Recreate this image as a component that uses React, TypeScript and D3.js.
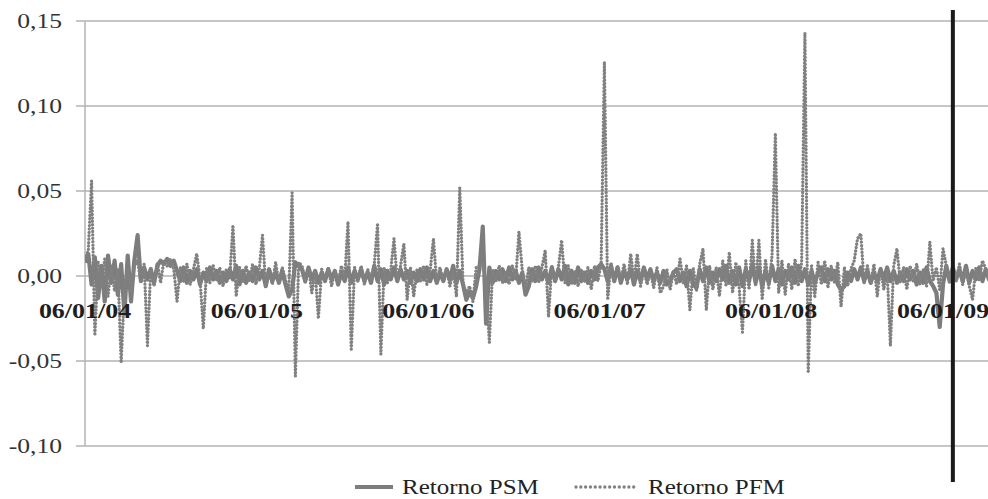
import React from 'react';
import * as d3 from 'd3';

// weekly returns, in thousandths, starting 06/01/04
const psmValues = [
  8, 13, -5, 11, -13, 6, -15, 12, -4, 9, -11, 7, -22, 12, -15, 9, 24, -3, 5, -2,
  4, -4, 6, 9, 7, 10, 6, 9, 3, -3, 5, -4, 3, -2, 4, -5, 2, -3, 5, -2,
  3, -4, 2, -3, 4, -2, 6, -5, 3, -4, 2, -3, 5, -2, 3, -6, 4, -3, 2, -4,
  3, -5, -12, -8, 8, 6, 4, -3, 5, -2, 3, -4, 2, -3, 4, -2, 3, -5, 2, -3,
  5, -4, 3, -2, 4, -3, 2, -4, 6, -3, 4, -5, 3, -2, 5, -3, 4, -2, 3, -4,
  2, -3, 4, -2, 5, -3, 3, -4, 2, -3, 4, -2, 6, -4, 3, -5, -14, -9, -13, -6,
  4, 29, -28, 5, -4, 3, -2, 4, -3, 5, -2, 3, -4, 2, -11, -6, 4, -3, 5, -2,
  3, -4, 5, -3, 4, -2, 6, -5, 3, -4, 5, -3, 2, -4, 3, -2, 5, 7, 4, -3,
  6, -3, 5, -4, 3, -2, 4, -5, 3, -3, 5, -2, 4, -3, 2, -4, 3, -5, -3, 2,
  4, -3, 2, -6, 3, -5, -7, 4, -3, 5, -4, 2, -3, 4, -2, 6, -4, 3, -5, 5,
  -6, 4, -3, 7, -4, 5, -6, 3, -4, 6, -3, 4, -5, 3, -2, 5, -4, 6, -3, 4,
  -5, 3, -4, 2, 5, -3, 4, -2, 3, -5, -8, -6, 2, -3, 4, -2, 5, -3, 3, -4,
  2, -3, 4, -2, 5, -3, 3, -4, 2, -3, 4, -2, 3, -5, 2, -4, 5, -3, -6, -10,
  -30, -5, 6, -3, 5, -2, 4, -3, 6, -4, 3, -2, 5, -3, 4, -2, 3, -3, 2, -2,
];

const pfmValues = [
  10, 15, 56, -35, 8, -6, 10, -12, 6, -9, 4, -51, -8, 5, -10, 6, 9, -4, 7, -41,
  5, -6, 8, -4, 9, 6, 10, 4, -15, 5, -3, 7, -5, 4, 13, -2, -31, 5, -4, 6,
  -3, 5, -6, 4, -2, 30, -12, 5, -4, 6, -3, 7, -5, 4, 24, -6, 3, -5, 8, -4,
  5, -3, -8, 49, -59, 8, 6, -4, 5, -10, 3, -25, 4, -3, 5, -6, 3, -4, 6, -2,
  32, -44, 5, -3, 6, -5, 4, -2, 7, 31, -46, 5, -4, 3, 22, -3, 6, 19, -14, 5,
  -12, 4, -3, 6, -5, 3, 22, -4, 5, -3, 4, -6, 3, -12, 52, -5, -10, -6, -15, 5,
  6, 8, -5, -39, 4, -3, 6, -4, 3, -5, 6, -2, 26, 4, -8, 5, -3, 6, -4, 5,
  15, -24, 6, -3, 5, 21, -4, 6, -5, 3, -6, 4, -3, 5, -8, 6, -3, 7, 126, -14,
  8, -4, 6, -3, 7, -5, 13, -3, 13, -6, 4, -5, 3, -7, 5, -10, -6, 4, -8, 3,
  -5, 10, -4, 6, -20, 5, -9, 7, 16, -20, 6, -8, 5, -12, 9, -6, 14, -10, 8, -7,
  -33, 9, -8, 21, -6, 21, -14, 10, -7, 12, 84, -10, 9, -11, 7, -8, 10, -6, 8, 143,
  -57, 6, -12, 8, -5, 9, -7, 6, -4, 8, -18, 5, -6, 4, 9, 22, 25, -4, 6, -5,
  7, -12, 5, -8, 4, -41, 6, 16, -4, 5, -8, 6, -3, 7, -5, 4, -6, 20, -3, 5,
  -8, 16, 6, -4, 5, -3, 7, -5, 4, -6, -14, 5, -3, 9, 4, -3, 6, -4, 3, -5,
];

const xTickLabels = ['06/01/04', '06/01/05', '06/01/06', '06/01/07', '06/01/08', '06/01/09'];
const yTicks = [0.15, 0.1, 0.05, 0, -0.05, -0.1];
const markerDate = '27/01/09';
const seriesNames = ['Retorno PSM', 'Retorno PFM'];

const W = 988;
const H = 499;
const parse = d3.timeParse('%d/%m/%y');
const start = parse('06/01/04') as Date;

export default function App() {
  const x = d3.scaleTime()
    .domain([parse('06/01/04') as Date, parse('06/01/09') as Date])
    .range([85, 943]);
  const y = d3.scaleLinear().domain([-0.1, 0.15]).range([446, 21]);

  const dates = psmValues.map((_, i) => d3.timeDay.offset(start, 7 * i));
  const line = d3.line<number>()
    .x((_, i) => x(dates[i]))
    .y(d => y(d / 1000));

  const fmt = (v: number) => d3.format('.2f')(v).replace('.', ',').replace('−', '-');
  const serif = '"Liberation Serif", "Times New Roman", serif';
  const mx = x(parse(markerDate) as Date);

  return (
    <svg width={W} height={H} style={{ position: 'absolute', left: 0, top: 0 }} fontFamily={serif}>
      <rect width={W} height={H} fill="#fff" />
      <defs>
        <clipPath id="plot">
          <rect x={85} y={0} width={W - 85} height={H} />
        </clipPath>
      </defs>

      {yTicks.map(t => (
        <g key={t}>
          <line x1={76} x2={W} y1={y(t)} y2={y(t)} stroke="#b3b3b3" strokeWidth={1.5} />
          <text transform={`translate(62,${y(t) + 7}) scale(1.22,1)`} textAnchor="end"
            fontSize={21} fill="#333">{fmt(t)}</text>
        </g>
      ))}
      <line x1={85} x2={85} y1={y(0.15)} y2={y(-0.1)} stroke="#b3b3b3" strokeWidth={1.5} />

      <g clipPath="url(#plot)">
        <path d={line(psmValues) ?? ''} fill="none" stroke="#7d7d7d" strokeWidth={4.2}
          strokeLinejoin="round" />
        <path d={line(pfmValues) ?? ''} fill="none" stroke="#808080" strokeWidth={3.3}
          strokeLinecap="round" strokeDasharray="0.01 3.4" />
      </g>

      {xTickLabels.map(l => (
        <text key={l} transform={`translate(${x(parse(l) as Date)},318) scale(1.18,1)`}
          textAnchor="middle" fontSize={22} fontWeight="bold" fill="#1e1e1e">{l}</text>
      ))}

      <line x1={mx} x2={mx} y1={10} y2={482} stroke="#1a1a1a" strokeWidth={4} />

      <line x1={355} x2={393} y1={487} y2={487} stroke="#7d7d7d" strokeWidth={4} />
      <text transform="translate(402,494) scale(1.25,1)" fontSize={20} fill="#222">{seriesNames[0]}</text>
      <line x1={576} x2={636} y1={487} y2={487} stroke="#808080" strokeWidth={3.3}
        strokeLinecap="round" strokeDasharray="0.01 4.8" />
      <text transform="translate(648,494) scale(1.25,1)" fontSize={20} fill="#222">{seriesNames[1]}</text>
    </svg>
  );
}
